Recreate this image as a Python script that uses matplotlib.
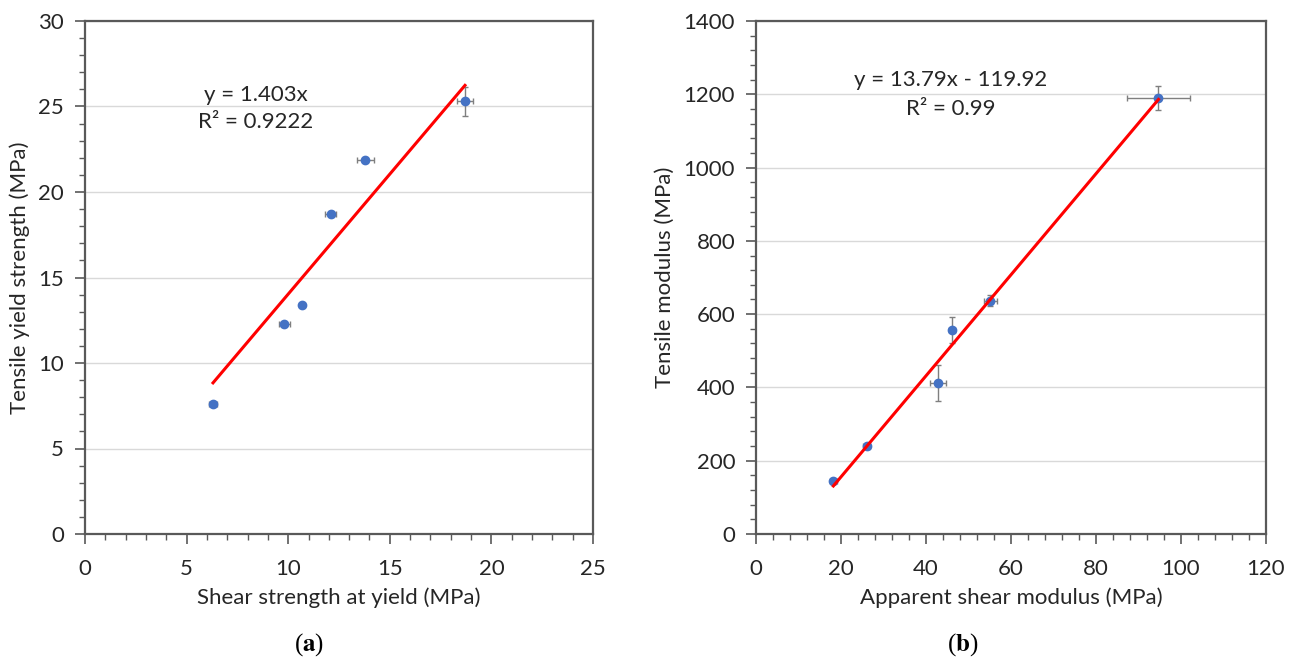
import matplotlib.pyplot as plt
from matplotlib.ticker import MultipleLocator
import numpy as np

plt.rcParams['font.family'] = ['Lato', 'DejaVu Sans']
plt.rcParams['mathtext.fontset'] = 'stix'

# panel (a) data
shear_yield = [6.3, 9.8, 10.7, 12.1, 13.8, 18.7]
shear_yield_err = [0.2, 0.27, 0.1, 0.27, 0.43, 0.4]
tensile_yield = [7.6, 12.3, 13.4, 18.7, 21.9, 25.3]
tensile_yield_err = [0.1, 0.1, 0.1, 0.1, 0.1, 0.85]
slope_a, icpt_a = 1.403, 0.0

# panel (b) data
shear_mod = [18.2, 26.0, 42.8, 46.1, 55.1, 94.7]
shear_mod_err = [0.8, 0.8, 1.8, 0.8, 1.5, 7.5]
tensile_mod = [145, 240, 412, 557, 636, 1190]
tensile_mod_err = [5, 8, 48, 36, 15, 32]
slope_b, icpt_b = 13.79, -119.92

BLUE = '#4472C4'
GRAY = '#595959'
TXT = '#262626'
FS = 16

fig = plt.figure(figsize=(12.93, 6.59), dpi=100)
ax1 = fig.add_axes([85/1293, 1-534/659, (593-85)/1293, (534-21)/659])
ax2 = fig.add_axes([756/1293, 1-534/659, (1266-756)/1293, (534-21)/659])


def style(ax, xmax, xmaj, ymax, ymaj):
    ax.set_xlim(0, xmax)
    ax.set_ylim(0, ymax)
    ax.xaxis.set_major_locator(MultipleLocator(xmaj))
    ax.xaxis.set_minor_locator(MultipleLocator(xmaj / 5))
    ax.yaxis.set_major_locator(MultipleLocator(ymaj))
    ax.yaxis.set_minor_locator(MultipleLocator(ymaj / 5))
    for s in ax.spines.values():
        s.set_color(GRAY)
        s.set_linewidth(1.6)
    ax.tick_params(which='major', direction='out', length=7, width=1.2,
                   color=GRAY, labelsize=FS, labelcolor=TXT, pad=8)
    ax.tick_params(axis='x', which='major', pad=11)
    ax.tick_params(which='minor', direction='out', length=4, width=1.0, color=GRAY)
    ax.grid(axis='y', which='major', color='#d9d9d9', linewidth=1.0)
    ax.set_axisbelow(True)


def draw(ax, x, xe, y, ye, m, b):
    ax.errorbar(x, y, xerr=xe, yerr=ye, fmt='o', color=BLUE, markersize=6,
                ecolor='#7f7f7f', elinewidth=1.0, capsize=2.5, capthick=1.0, zorder=3)
    xs = np.array([min(x), max(x)])
    ax.plot(xs, m * xs + b, color='#ff0000', linewidth=2.2, zorder=4)


style(ax1, 25, 5, 30, 5)
draw(ax1, shear_yield, shear_yield_err, tensile_yield, tensile_yield_err, slope_a, icpt_a)
ax1.text(8.4, 25.7, 'y = 1.403x', ha='center', va='center', fontsize=FS, color=TXT)
ax1.text(8.4, 24.1, 'R² = 0.9222', ha='center', va='center', fontsize=FS, color=TXT)
ax1.set_xlabel('Shear strength at yield (MPa)', fontsize=FS, color=TXT, labelpad=6)
ax1.set_ylabel('Tensile yield strength (MPa)', fontsize=FS, color=TXT, labelpad=6)

style(ax2, 120, 20, 1400, 200)
draw(ax2, shear_mod, shear_mod_err, tensile_mod, tensile_mod_err, slope_b, icpt_b)
ax2.text(45.9, 1239, 'y = 13.79x - 119.92', ha='center', va='center', fontsize=FS, color=TXT)
ax2.text(45.9, 1159, 'R² = 0.99', ha='center', va='center', fontsize=FS, color=TXT)
ax2.set_xlabel('Apparent shear modulus (MPa)', fontsize=FS, color=TXT, labelpad=6)
ax2.set_ylabel('Tensile modulus (MPa)', fontsize=FS, color=TXT, labelpad=6)

fig.text(309/1293, 1-645/659, r'($\mathbf{a}$)', ha='center', va='center',
         fontsize=18, family='Liberation Serif')
fig.text(963/1293, 1-645/659, r'($\mathbf{b}$)', ha='center', va='center',
         fontsize=18, family='Liberation Serif')

fig.savefig('out.png', dpi=100)
